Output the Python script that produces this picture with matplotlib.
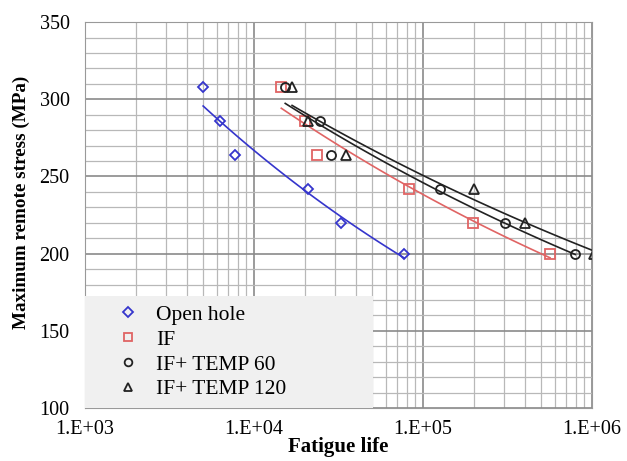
import numpy as np
import matplotlib.pyplot as plt
from matplotlib.ticker import FixedLocator, MultipleLocator, LogLocator, NullFormatter

plt.rcParams['font.family'] = ['Liberation Serif', 'DejaVu Serif']

stress = [308, 286, 264, 242, 220, 200]
life_open = [5000, 6300, 7700, 20900, 32800, 77300]
life_if = [14500, 20000, 23700, 82400, 198000, 564000]
life_t60 = [15300, 24600, 28600, 126000, 306000, 796000]
life_t120 = [16800, 20900, 35000, 200000, 403000, 1030000]

labels = ['Open hole', 'IF', 'IF+ TEMP 60', 'IF+ TEMP 120']
markers = ['D', 's', 'o', '^']
colors = ['#3535cc', '#e06464', '#222222', '#222222']
series = [life_open, life_if, life_t60, life_t120]

fig = plt.figure(figsize=(6.27, 4.61), dpi=100)
ax = fig.add_axes([0.1356, 0.115, 0.8086, 0.837])

for life, lab, m, c in zip(series, labels, markers, colors):
    x = np.array(life, float)
    y = np.array(stress, float)
    ax.plot(x, y, m, ms=6.5 if m != 'D' else 5.5, mfc='none', mec=c, mew=1.3,
            ls='none', label=lab)
    # power-law trend line
    b, a = np.polyfit(np.log10(x), np.log10(y), 1)
    xx = np.logspace(np.log10(x.min()), np.log10(x.max()), 100)
    ax.plot(xx, 10 ** (a + b * np.log10(xx)), '-', color=c, lw=1.2)

ax.set_xscale('log')
ax.set_xlim(1e3, 1e6)
ax.set_ylim(100, 350)
ax.xaxis.set_major_locator(FixedLocator([1e3, 1e4, 1e5, 1e6]))
ax.set_xticklabels(['1.E+03', '1.E+04', '1.E+05', '1.E+06'])
ax.xaxis.set_minor_locator(LogLocator(base=10, subs=np.arange(2, 10)))
ax.xaxis.set_minor_formatter(NullFormatter())
ax.yaxis.set_major_locator(MultipleLocator(50))
ax.yaxis.set_minor_locator(MultipleLocator(10))

ax.grid(which='major', color='#8a8a8a', lw=1.2)
ax.grid(which='minor', color='#b8b8b8', lw=0.9)
ax.set_axisbelow(True)
for s in ax.spines.values():
    s.set_color('#999999')
ax.tick_params(which='both', length=0, labelsize=14.5)
ax.tick_params(axis='x', pad=9)
ax.tick_params(axis='y', pad=11)

ax.set_xlabel('Fatigue life', fontsize=15, fontweight='bold', labelpad=-2)
ax.set_ylabel('Maximum remote stress (MPa)', fontsize=13.8, fontweight='bold')
ax.yaxis.set_label_coords(-0.109, 0.534)

leg = ax.legend(loc='lower left', bbox_to_anchor=(0, 0, 0.568, 0.28), mode='expand',
                fontsize=15.5, frameon=True, fancybox=False,
                borderaxespad=0, handletextpad=-0.3, labelspacing=0.22,
                borderpad=0.4, handlelength=3.2, markerscale=0.85)
leg.get_frame().set_facecolor('#f0f0f0')
leg.get_frame().set_edgecolor('none')
leg.get_frame().set_alpha(1)

fig.savefig('out.png', dpi=100)
